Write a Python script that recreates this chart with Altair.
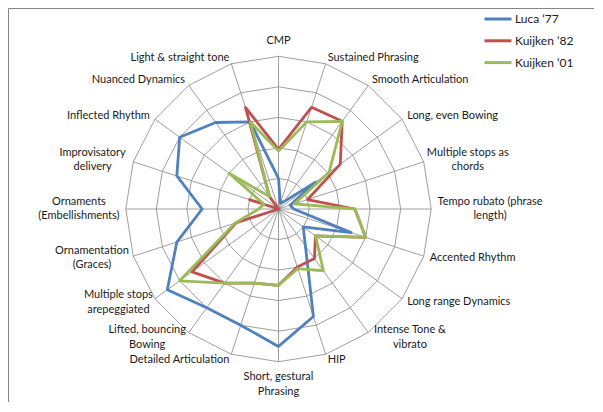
import math
import altair as alt
import pandas as pd

# ---------------- data ----------------
axis_labels = [
    "CMP", "Sustained Phrasing", "Smooth Articulation", "Long, even Bowing",
    "Multiple stops as\nchords", "Tempo rubato (phrase\nlength)", "Accented Rhythm",
    "Long range Dynamics", "Intense Tone &\nvibrato", "HIP", "Short, gestural\nPhrasing",
    "Detailed Articulation", "Lifted, bouncing\nBowing", "Multiple stops\narepeggiated",
    "Ornamentation\n(Graces)", "Ornaments\n(Embellishments)", "Improvisatory\ndelivery",
    "Inflected Rhythm", "Nuanced Dynamics", "Light & straight tone",
]
series_names = ["Luca \u201877", "Kuijken \u201882", "Kuijken \u201801"]
series_colors = ["#4F81BD", "#C0504D", "#9BBB59"]

luca77 = [2, 0.4, 0.6, 3, 0.8, 1, 5, 2, 3, 7.4, 9, 8, 8, 9, 7, 5, 7, 8, 7, 6]
kuijken82 = [3.9, 7, 7.1, 5, 2, 5, 6, 3, 4, 4, 5, 5.1, 6, 7, 2.9, 0, 2, 0, 1, 7]
kuijken01 = [3.8, 6, 7.1, 4.1, 1.1, 5, 6, 3, 5, 4.1, 5, 5.1, 6, 8, 3, 1.3, 1, 4, 1, 6]

ring_values = [2, 4, 6, 8, 10]
VMAX = 10

# ---------------- geometry ----------------
W, H = 586, 394
CX, CY = 270.5, 201.0      # centre of the radar inside the view (px)
RPX = 152.7                # radius of the outer ring (px)
k = RPX / VMAX             # px per value unit
N = len(axis_labels)

xdom = [-CX / k, (W - CX) / k]
ydom = [-(H - CY) / k, CY / k]


def ang(i):
    return 2 * math.pi * i / N


def xs():
    return alt.Scale(domain=xdom, nice=False, zero=False)


def ys():
    return alt.Scale(domain=ydom, nice=False, zero=False)


# series table
rows = []
for name, vals in zip(series_names, [luca77, kuijken82, kuijken01]):
    for j in range(N + 1):
        i = j % N
        v = vals[i]
        rows.append({"series": name, "idx": j,
                     "x": v * math.sin(ang(i)), "y": v * math.cos(ang(i))})
series_df = pd.DataFrame(rows)

# grid rings
grows = []
for r in ring_values:
    for j in range(N + 1):
        i = j % N
        grows.append({"ring": r, "idx": j, "x": r * math.sin(ang(i)), "y": r * math.cos(ang(i))})
ring_df = pd.DataFrame(grows)

# spokes
spoke_df = pd.DataFrame([{"x": 0.0, "y": 0.0,
                          "x2": VMAX * math.sin(ang(i)), "y2": VMAX * math.cos(ang(i))}
                         for i in range(N)])

# category labels
FS = 11
LH = 14.5
PAD = 6.3
cw = {"i": .23, "l": .23, "j": .23, "f": .31, "t": .34, "r": .35, " ": .26, "(": .30, ")": .30,
      ",": .21, ".": .21, "&": .68, "m": .83, "w": .75, "s": .41, "c": .45, "z": .44}


def text_width(s):
    total = 0.0
    for ch in s:
        if ch in cw:
            total += cw[ch]
        elif ch.isupper():
            total += .62
        else:
            total += .53
    return total * FS


lrows = []
for i, lab in enumerate(axis_labels):
    lines = lab.split("\n")
    n = len(lines)
    s, c = math.sin(ang(i)), math.cos(ang(i))
    if abs(s) < 0.05:
        rp = RPX + PAD + n * LH / 2 + 2
        xp, yp, grp = rp * s, rp * c, "C"
    else:
        rp = RPX + PAD
        xp, yp = rp * s, rp * c
        if n > 1:
            w = max(text_width(l) for l in lines)
            xp += (w / 2) * (1 if s > 0 else -1)
            grp = "C"
        else:
            grp = "L" if s > 0 else "R"
    # first line is drawn at the anchor; shift up so the block is centred
    yp += (n - 1) * LH / 2
    lrows.append({"label": lab, "x": xp / k, "y": yp / k, "grp": grp})
label_df = pd.DataFrame(lrows)

GRID = "#868686"
TXT = "#1a1a1a"

rings = alt.Chart(ring_df).mark_line(color=GRID, strokeWidth=0.8).encode(
    x=alt.X("x:Q", scale=xs(), axis=None),
    y=alt.Y("y:Q", scale=ys(), axis=None),
    detail="ring:N",
    order="idx:Q",
)

spokes = alt.Chart(spoke_df).mark_rule(color=GRID, strokeWidth=0.8).encode(
    x=alt.X("x:Q", scale=xs(), axis=None),
    y=alt.Y("y:Q", scale=ys(), axis=None),
    x2="x2:Q",
    y2="y2:Q",
)

lines = alt.Chart(series_df).mark_line(strokeWidth=2.8, strokeJoin="round").encode(
    x=alt.X("x:Q", scale=xs(), axis=None),
    y=alt.Y("y:Q", scale=ys(), axis=None),
    color=alt.Color(
        "series:N",
        scale=alt.Scale(domain=series_names, range=series_colors),
        sort=series_names,
        legend=alt.Legend(
            title=None, orient="none", legendX=475, legendY=-4,
            symbolType="stroke", symbolSize=729, symbolStrokeWidth=3,
            labelFont="Lato", labelFontSize=12, labelColor=TXT,
            labelOffset=2, rowPadding=0.8, padding=0,
        ),
    ),
    detail="series:N",
    order="idx:Q",
)


def label_layer(grp, align):
    return alt.Chart(label_df).transform_filter(alt.datum.grp == grp).mark_text(
        align=align, baseline="middle", font="Lato", fontSize=FS, color=TXT,
        lineBreak="\n", lineHeight=LH,
    ).encode(
        x=alt.X("x:Q", scale=xs(), axis=None),
        y=alt.Y("y:Q", scale=ys(), axis=None),
        text="label:N",
    )


chart = alt.layer(
    rings, spokes, lines,
    label_layer("L", "left"), label_layer("R", "right"), label_layer("C", "center"),
).properties(
    width=W, height=H, padding=0, autosize=alt.AutoSizeParams(type="none"),
).configure_view(
    stroke=GRID, strokeWidth=1,
)

chart.save("out.html", embed_options={"renderer": "svg", "actions": False})
